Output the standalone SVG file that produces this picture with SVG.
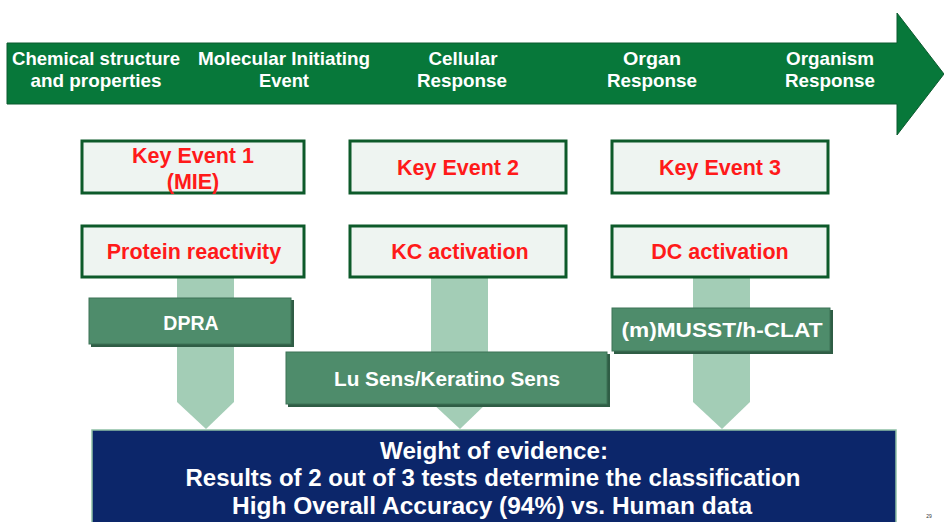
<svg xmlns="http://www.w3.org/2000/svg" width="944" height="522" viewBox="0 0 944 522">
<style>
.hdr{font-family:"Liberation Sans",Arial,sans-serif;font-weight:bold;font-size:18.5px;fill:#ffffff;text-anchor:middle}
.ke rect{fill:#eef4f1;stroke:#0d5a2a;stroke-width:3}
.ke text{font-family:"Liberation Sans",Arial,sans-serif;font-weight:bold;font-size:21.5px;fill:#ff1a1a;text-anchor:middle}
.test .sh{fill:#2f5d45}
.test .bx{fill:#4e8c6b;stroke:#3d7357;stroke-width:1}
.test text{font-family:"Liberation Sans",Arial,sans-serif;font-weight:bold;font-size:19.5px;fill:#ffffff;text-anchor:middle}
.va{fill:#a3cdb6}
.woe text{font-family:"Liberation Sans",Arial,sans-serif;font-weight:bold;font-size:23px;fill:#ffffff;text-anchor:middle}
</style>

<g id="timeline">
  <polygon points="7,43 897,43 897,13 944,74 897,135 897,104 7,104" fill="#07783a" stroke="#0b5a2e" stroke-width="1"/>
  <text class="hdr" x="96" y="65" textLength="168" lengthAdjust="spacingAndGlyphs">Chemical structure</text>
  <text class="hdr" x="96" y="87" textLength="131" lengthAdjust="spacingAndGlyphs">and properties</text>
  <text class="hdr" x="284" y="65" textLength="172" lengthAdjust="spacingAndGlyphs">Molecular Initiating</text>
  <text class="hdr" x="284" y="87" textLength="50" lengthAdjust="spacingAndGlyphs">Event</text>
  <text class="hdr" x="463" y="65" textLength="69" lengthAdjust="spacingAndGlyphs">Cellular</text>
  <text class="hdr" x="462" y="87" textLength="90" lengthAdjust="spacingAndGlyphs">Response</text>
  <text class="hdr" x="652" y="65" textLength="58" lengthAdjust="spacingAndGlyphs">Organ</text>
  <text class="hdr" x="652" y="87" textLength="90" lengthAdjust="spacingAndGlyphs">Response</text>
  <text class="hdr" x="830" y="65" textLength="88" lengthAdjust="spacingAndGlyphs">Organism</text>
  <text class="hdr" x="830" y="87" textLength="90" lengthAdjust="spacingAndGlyphs">Response</text>
</g>

<g id="connectors">
  <polygon class="va" points="177,277 234,277 234,402 206,429 177,402"/>
  <polygon class="va" points="431,277 488,277 488,402 460,429 431,402"/>
  <polygon class="va" points="693,277 750,277 750,402 722,429 693,402"/>
</g>

<g id="ke1" class="ke">
  <rect x="82" y="141" width="222" height="52"/>
  <text x="193" y="163">Key Event 1</text>
  <text x="193" y="189">(MIE)</text>
</g>
<g id="ke2" class="ke">
  <rect x="350" y="141" width="216" height="52"/>
  <text x="458" y="175">Key Event 2</text>
</g>
<g id="ke3" class="ke">
  <rect x="612" y="141" width="216" height="52"/>
  <text x="720" y="175">Key Event 3</text>
</g>

<g id="protein" class="ke">
  <rect x="82" y="226" width="222" height="51"/>
  <text x="194" y="259">Protein reactivity</text>
</g>
<g id="kc" class="ke">
  <rect x="350" y="226" width="216" height="51"/>
  <text x="460" y="259">KC activation</text>
</g>
<g id="dc" class="ke">
  <rect x="612" y="226" width="216" height="51"/>
  <text x="720" y="259">DC activation</text>
</g>

<g id="dpra" class="test">
  <rect class="sh" x="91" y="300" width="203" height="47"/>
  <rect class="bx" x="89" y="298" width="202" height="46"/>
  <text x="191" y="330">DPRA</text>
</g>
<g id="lusens" class="test">
  <rect class="sh" x="288" y="354" width="322" height="53"/>
  <rect class="bx" x="286" y="352" width="321" height="52"/>
  <text x="447" y="386" textLength="226" lengthAdjust="spacingAndGlyphs">Lu Sens/Keratino Sens</text>
</g>
<g id="musst" class="test">
  <rect class="sh" x="614" y="310" width="219" height="44"/>
  <rect class="bx" x="612" y="308" width="218" height="43"/>
  <text x="722" y="337" textLength="201" lengthAdjust="spacingAndGlyphs">(m)MUSST/h-CLAT</text>
</g>

<g id="woe" class="woe">
  <rect x="92" y="430" width="804" height="95" fill="#0c266a" stroke="#8fc0a5" stroke-width="1.5"/>
  <text x="494" y="459" textLength="228" lengthAdjust="spacingAndGlyphs">Weight of evidence:</text>
  <text x="493" y="486" textLength="615" lengthAdjust="spacingAndGlyphs">Results of 2 out of 3 tests determine the classification</text>
  <text x="492" y="514" textLength="520" lengthAdjust="spacingAndGlyphs">High  Overall Accuracy (94%) vs.  Human data</text>
</g>

<text x="929" y="518" font-family="Liberation Sans, Arial, sans-serif" font-size="5" fill="#333333" text-anchor="middle">29</text>
</svg>
